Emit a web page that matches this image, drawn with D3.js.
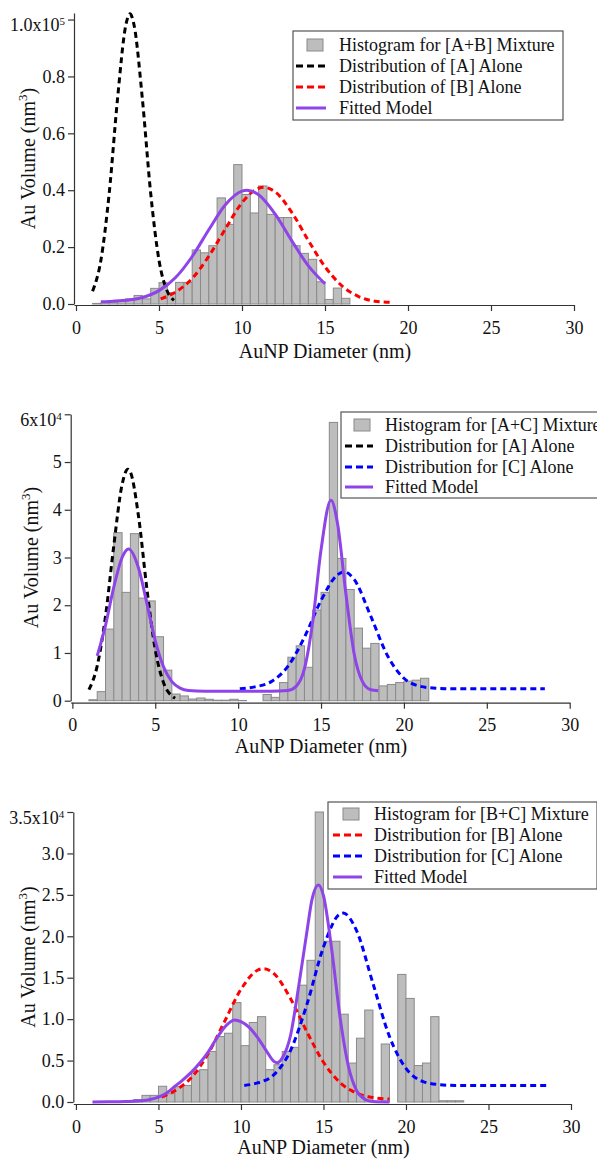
<!DOCTYPE html>
<html>
<head>
<meta charset="utf-8">
<script src="https://cdn.jsdelivr.net/npm/d3@7"></script>
<style>
  body { margin: 0; background: #fff; }
  svg { display: block; font-family: 'Liberation Serif', 'Times New Roman', serif; }
</style>
</head>
<body>
<svg id="chart" width="597" height="1159"></svg>
<script>
// ---- data (volumes in units shown on each y axis) ----
const binWidth = 0.5
const xTicks = [0, 5, 10, 15, 20, 25, 30]

// panel 1: [A+B], x10^5 nm^3
const histABStart = 1.0
const histAB = [0.002, 0.005, 0.006, 0.01, 0.018, 0.03, 0.018, 0.055, 0.075, 0.04, 0.076, 0.076,
  0.19, 0.18, 0.205, 0.373, 0.28, 0.49, 0.385, 0.32, 0.415, 0.315, 0.304, 0.304, 0.205, 0.178,
  0.157, 0.078, 0.016, 0.056, 0.02]
const distA_AB = [[1.0, 0.045], [1.5, 0.154], [2.0, 0.389], [2.5, 0.72], [3.0, 0.98], [3.25, 1.02],
  [3.5, 0.98], [4.0, 0.72], [4.5, 0.389], [5.0, 0.154], [5.5, 0.045], [5.9, 0.013]]
const distB_AB = [[5.1, 0.018], [6, 0.042], [7, 0.09], [8, 0.168], [9, 0.264], [10, 0.356], [11, 0.407],
  [11.3, 0.41], [12, 0.394], [13, 0.322], [14, 0.223], [15, 0.131], [16, 0.065], [17, 0.027],
  [18, 0.01], [19, 0.006]]
const fitAB = [[1.5, 0.008], [2, 0.009], [3, 0.013], [4, 0.023], [5, 0.047], [6, 0.093], [7, 0.167],
  [8, 0.261], [9, 0.349], [10, 0.397], [10.3, 0.4], [11, 0.384], [12, 0.316], [13, 0.222],
  [14, 0.134], [15, 0.071]]
const yTicksAB = [0, 0.2, 0.4, 0.6, 0.8, 1.0]

// panel 2: [A+C], x10^4 nm^3
const histACStart = 1.0
const histAC = [0.02, 0.19, 1.5, 3.52, 2.27, 3.5, 2.15, 2.09, 1.34, 0.64, 0.14, 0.1, 0.035, 0.056,
  0.03, 0.01, 0.01, 0.03, 0.005, 0, 0, 0.13, 0.07, 0.38, 0.91, 1.15, 0.7, 1.9, 2.27, 5.83, 2.98,
  2.33, 1.52, 1.1, 1.2, 0.31, 0.34, 0.38, 0.41, 0.43, 0.47]
const distA_AC = [[1.0, 0.23], [1.5, 0.73], [2.0, 1.77], [2.5, 3.25], [3.0, 4.53], [3.35, 4.85],
  [3.5, 4.79], [4.0, 3.84], [4.5, 2.33], [5.0, 1.07], [5.5, 0.375], [6.0, 0.1], [6.2, 0.05]]
const distC_AC = [[10.1, 0.25], [11, 0.29], [12, 0.4], [13, 0.72], [14, 1.33], [15, 2.1], [16, 2.64],
  [16.4, 2.7], [17, 2.54], [18, 1.77], [19, 0.95], [20, 0.47], [21, 0.3], [22, 0.26], [23, 0.25],
  [28.5, 0.25]]
const fitAC = [[1.5, 0.94], [2.0, 1.58], [2.5, 2.38], [3.0, 3.0], [3.39, 3.18], [4.0, 2.77], [4.5, 2.03],
  [5.0, 1.26], [5.5, 0.71], [6.0, 0.4], [6.5, 0.264], [7.0, 0.215], [8, 0.2], [12, 0.2], [13, 0.214],
  [13.5, 0.3], [14, 0.67], [14.5, 1.66], [15, 3.16], [15.6, 4.2], [16, 3.7], [16.5, 2.24], [17, 0.98],
  [17.5, 0.4], [18, 0.23], [18.45, 0.21]]
const yTicksAC = [0, 1, 2, 3, 4, 5, 6]

// panel 3: [B+C], x10^4 nm^3
const histBCStart = 3.0
const histBC = [0.012, 0.03, 0.08, 0.08, 0.19, 0.1, 0.185, 0.2, 0.37, 0.39, 0.61, 0.79, 0.83, 1.2,
  0.68, 0.96, 1.03, 0.39, 0.45, 0.61, 0.66, 1.41, 1.71, 3.5, 1.94, 1.94, 1.06, 0.47, 0.77, 1.11,
  0, 0.7, 0, 1.54, 1.25, 0.44, 0.47, 1.03, 0.015, 0.015, 0.015]
const distB_BC = [[5.2, 0.06], [6, 0.137], [7, 0.295], [8, 0.578], [9, 0.969], [10, 1.36], [11, 1.59],
  [11.35, 1.61], [12, 1.55], [13, 1.25], [14, 0.845], [15, 0.48], [16, 0.235], [17, 0.108],
  [18, 0.054], [19, 0.035]]
const distC_BC = [[10.2, 0.2], [11, 0.23], [12, 0.33], [13, 0.62], [14, 1.18], [15, 1.87], [16, 2.27],
  [16.2, 2.28], [17, 2.07], [18, 1.43], [19, 0.79], [20, 0.405], [21, 0.25], [22, 0.21], [23, 0.2],
  [28.5, 0.2]]
const fitBC = [[1, 0], [2, 0.002], [3, 0.006], [4, 0.015], [4.5, 0.03], [5, 0.06], [5.5, 0.11],
  [6, 0.19], [6.5, 0.27], [7, 0.36], [7.5, 0.47], [8, 0.6], [8.5, 0.76], [9, 0.9], [9.6, 0.99],
  [10, 0.97], [10.5, 0.9], [11, 0.78], [11.5, 0.63], [12, 0.49], [12.2, 0.475], [12.5, 0.53],
  [13, 0.8], [13.5, 1.4], [14, 2.06], [14.3, 2.44], [14.7, 2.62], [15, 2.49], [15.5, 1.84],
  [16, 1.03], [16.5, 0.44], [17, 0.14], [17.5, 0.034], [18, 0.005], [19, 0]]
const yTicksBC = [0, 0.5, 1.0, 1.5, 2.0, 2.5, 3.0, 3.5]

// ---- styles ----
const BLACK = '#000'
const RED = '#ff0000'
const BLUE = '#0000ff'
const PURPLE = '#8e44e8'
const BAR_FILL = '#bdbdbd'
const BAR_STROKE = '#8a8a8a'
const AXIS = '#333'

const svg = d3.select('#chart')

const drawPanel = (cfg) => {
  let g = svg.append('g')
  let x = d3.scaleLinear().domain(cfg.xDomain).range(cfg.xRange)
  let y = d3.scaleLinear().domain(cfg.yDomain).range(cfg.yRange)

  // histogram bars
  let bins = cfg.hist.map((v, i) => ({ x0: cfg.histStart + i * binWidth, v: v }))
  g.append('g')
    .selectAll('rect')
    .data(bins.filter((d) => d.v > 0))
    .enter()
    .append('rect')
    .attr('x', (d) => x(d.x0))
    .attr('width', (d) => x(d.x0 + binWidth) - x(d.x0))
    .attr('y', (d) => y(d.v))
    .attr('height', (d) => y(0) - y(d.v))
    .attr('fill', BAR_FILL)
    .attr('stroke', BAR_STROKE)
    .attr('stroke-width', 1)

  // curves
  let line = d3
    .line()
    .x((d) => x(d[0]))
    .y((d) => y(d[1]))
    .curve(d3.curveMonotoneX)

  cfg.curves.forEach((c) => {
    g.append('path')
      .datum(c.data)
      .attr('d', line)
      .attr('fill', 'none')
      .attr('stroke', c.color)
      .attr('stroke-width', 3)
      .attr('stroke-dasharray', c.dash ? '6,4' : null)
  })

  // y axis
  let yAxis = d3
    .axisLeft(y)
    .tickValues(cfg.yTicks)
    .tickSize(6)
    .tickSizeOuter(0)
    .tickPadding(3)
    .tickFormat(cfg.yFormat)

  let ya = g
    .append('g')
    .attr('transform', `translate(${cfg.xRange[0]},0)`)
    .call(yAxis)

  // x axis
  let xAxis = d3
    .axisBottom(x)
    .tickValues(xTicks)
    .tickSize(6)
    .tickSizeOuter(0)
    .tickPadding(10)

  let xa = g
    .append('g')
    .attr('transform', `translate(0,${cfg.xAxisY})`)
    .call(xAxis)

  ;[ya, xa].forEach((a) => {
    a.attr('font-family', null).attr('font-size', null)
    a.selectAll('.domain').attr('stroke', AXIS).attr('stroke-width', 1.2)
    a.selectAll('.tick line').attr('stroke', AXIS).attr('stroke-width', 1.2)
    a.selectAll('.tick text').attr('fill', '#111').style('font-size', '18px')
  })

  // top y label with exponent
  let topTick = ya.selectAll('.tick').filter((d) => d === cfg.yTicks[cfg.yTicks.length - 1])
  let topText = topTick.select('text').text(cfg.topLabel[0]).attr('dy', '0.62em')
  topText.append('tspan').attr('dy', '-0.55em').style('font-size', '11px').text(cfg.topLabel[1])

  // axis titles
  g.append('text')
    .attr('x', (x(0) + x(30)) / 2)
    .attr('y', cfg.xTitleY)
    .attr('text-anchor', 'middle')
    .style('font-size', '20px')
    .attr('fill', '#111')
    .text('AuNP Diameter (nm)')

  let yMid = (cfg.yRange[0] + cfg.yRange[1]) / 2
  let yt = g
    .append('text')
    .attr('transform', `translate(${cfg.yTitleX},${yMid}) rotate(-90)`)
    .attr('text-anchor', 'middle')
    .style('font-size', '20px')
    .attr('fill', '#111')
  yt.append('tspan').text('Au Volume (nm')
  yt.append('tspan').attr('dy', '-0.6em').style('font-size', '13px').text('3')
  yt.append('tspan').attr('dy', '0.39em').text(')')

  // legend
  let lg = cfg.legend
  g.append('rect')
    .attr('x', lg.box[0])
    .attr('y', lg.box[1])
    .attr('width', lg.box[2] - lg.box[0])
    .attr('height', lg.box[3] - lg.box[1])
    .attr('fill', '#fff')
    .attr('stroke', '#555')
    .attr('stroke-width', 1.2)

  lg.rows.forEach((r, i) => {
    let cy = lg.rowY[i]
    if (r.type === 'bar') {
      g.append('rect')
        .attr('x', lg.swatch[0])
        .attr('y', cy - 6)
        .attr('width', lg.swatch[1] - lg.swatch[0])
        .attr('height', 12)
        .attr('fill', BAR_FILL)
        .attr('stroke', BAR_STROKE)
    } else {
      g.append('line')
        .attr('x1', lg.line[0])
        .attr('x2', lg.line[1])
        .attr('y1', cy)
        .attr('y2', cy)
        .attr('stroke', r.color)
        .attr('stroke-width', 3)
        .attr('stroke-dasharray', r.type === 'dash' ? '7,4' : null)
    }
    g.append('text')
      .attr('x', lg.textX)
      .attr('y', cy)
      .attr('dy', '0.33em')
      .style('font-size', '18px')
      .attr('fill', '#111')
      .text(r.label)
  })
}

drawPanel({
  xDomain: [-0.12, 30],
  xRange: [74, 574],
  yDomain: [0, 1.023],
  yRange: [304, 13],
  xAxisY: 305,
  yTicks: yTicksAB,
  yFormat: d3.format('.1f'),
  topLabel: ['1.0x10', '5'],
  xTitleY: 358,
  yTitleX: 35,
  hist: histAB,
  histStart: histABStart,
  curves: [
    { data: distA_AB, color: BLACK, dash: true },
    { data: distB_AB, color: RED, dash: true },
    { data: fitAB, color: PURPLE, dash: false },
  ],
  legend: {
    box: [293, 31, 563, 120],
    rowY: [45, 66, 87, 108],
    swatch: [307, 323],
    line: [296, 326],
    textX: 339,
    rows: [
      { type: 'bar', label: 'Histogram for [A+B] Mixture' },
      { type: 'dash', color: BLACK, label: 'Distribution of [A] Alone' },
      { type: 'dash', color: RED, label: 'Distribution of [B] Alone' },
      { type: 'solid', color: PURPLE, label: 'Fitted Model' },
    ],
  },
})

drawPanel({
  xDomain: [-0.1, 30],
  xRange: [70.7, 569.7],
  yDomain: [0, 6],
  yRange: [700.7, 414.3],
  xAxisY: 702.7,
  yTicks: yTicksAC,
  yFormat: d3.format('d'),
  topLabel: ['6x10', '4'],
  xTitleY: 753,
  yTitleX: 38,
  hist: histAC,
  histStart: histACStart,
  curves: [
    { data: distA_AC, color: BLACK, dash: true },
    { data: distC_AC, color: BLUE, dash: true },
    { data: fitAC, color: PURPLE, dash: false },
  ],
  legend: {
    box: [341, 412, 600, 498],
    rowY: [425, 446, 467, 487],
    swatch: [354, 370],
    line: [345, 373],
    textX: 385,
    rows: [
      { type: 'bar', label: 'Histogram for [A+C] Mixture' },
      { type: 'dash', color: BLACK, label: 'Distribution for [A] Alone' },
      { type: 'dash', color: BLUE, label: 'Distribution for [C] Alone' },
      { type: 'solid', color: PURPLE, label: 'Fitted Model' },
    ],
  },
})

drawPanel({
  xDomain: [-0.16, 30],
  xRange: [73.3, 571],
  yDomain: [0, 3.5],
  yRange: [1102, 812],
  xAxisY: 1104,
  yTicks: yTicksBC,
  yFormat: d3.format('.1f'),
  topLabel: ['3.5x10', '4'],
  xTitleY: 1154,
  yTitleX: 35,
  hist: histBC,
  histStart: histBCStart,
  curves: [
    { data: distB_BC, color: RED, dash: true },
    { data: distC_BC, color: BLUE, dash: true },
    { data: fitBC, color: PURPLE, dash: false },
  ],
  legend: {
    box: [328, 802, 597, 889],
    rowY: [814, 835, 856, 877],
    swatch: [343, 359],
    line: [333, 362],
    textX: 374,
    rows: [
      { type: 'bar', label: 'Histogram for [B+C] Mixture' },
      { type: 'dash', color: RED, label: 'Distribution for [B] Alone' },
      { type: 'dash', color: BLUE, label: 'Distribution for [C] Alone' },
      { type: 'solid', color: PURPLE, label: 'Fitted Model' },
    ],
  },
})
</script>
</body>
</html>
